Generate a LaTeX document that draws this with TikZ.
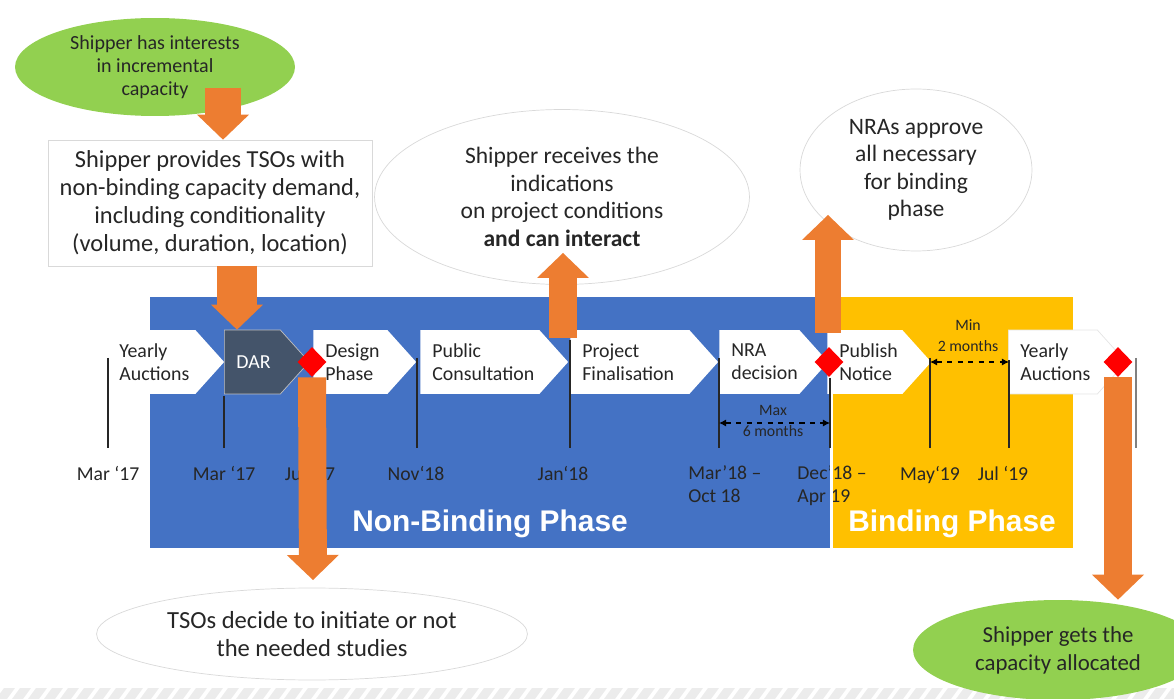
\documentclass[tikz,border=0pt]{standalone}
\usepackage{fontspec}
\setmainfont{Carlito}
\newfontfamily\phasefont{Liberation Sans}
\usetikzlibrary{arrows.meta, positioning, shapes.geometric, shapes.symbols, calc}
\definecolor{nbBlue}  {RGB}{68,114,196}
\definecolor{bYellow} {RGB}{255,192,0}
\definecolor{arOrange}{RGB}{237,125,49}
\definecolor{shGreen} {RGB}{146,208,80}
\definecolor{darSlate}{RGB}{68,84,106}
\definecolor{msRed}   {RGB}{255,0,0}
\definecolor{elGray}  {RGB}{217,217,217}
\definecolor{txDark}  {RGB}{38,38,38}

\begin{document}
\begin{tikzpicture}[x=0.02cm, y=-0.02cm, every node/.style={text=txDark},
    STAGE/.style={shape=signal, signal to=east, signal pointer angle=96, fill=white, minimum height=1.28cm, inner xsep=0.24cm, inner ysep=0pt, anchor=west, align=left, font=\fontsize{11.3}{13.2}\selectfont},
    MS/.style={diamond, fill=msRed, minimum width=0.58cm, minimum height=0.6cm, inner sep=0pt},
    TICK/.style={line width=0.7pt, black!85},
    DATE/.style={font=\fontsize{11.2}{13}\selectfont, inner sep=0pt},
    NOTE/.style={ellipse, draw=elGray, fill=white, align=center, inner sep=0pt, font=\fontsize{13.4}{15.6}\selectfont},
    GREEN/.style={ellipse, fill=shGreen, align=center, inner sep=0pt},
    BIG/.style={draw=arOrange, line width=0.56cm, -{Triangle[length=0.5cm, width=1.04cm, line width=0pt, fill=arOrange]}},
    SPAN/.style={dashed, line width=0.6pt, {Latex[length=4pt,width=4pt]}-{Latex[length=4pt,width=4pt]}},
    PHASE/.style={text=white, font=\phasefont\bfseries\fontsize{17}{20}\selectfont}]
    \useasboundingbox (0,0) rectangle (1174,699);

    % footer band
    \foreach \x in {-20,-4,...,1180}
        \fill[gray!15] (\x,699) -- ++(11,0) -- ++(8,-11) -- ++(-11,0) -- cycle;

    % phases
    \fill[nbBlue] (150,297) rectangle (830,548);
    \fill[bYellow] (833,297) rectangle (1073,548);
    \node[PHASE] (nbLbl) at (490,524) {Non-Binding Phase};
    \node[PHASE] (bLbl) at (952,524) {Binding Phase};

    % dates
    \foreach \x/\d [count=\i] in {108/{Mar ‘17}, 224/{Mar ‘17}, 310/{Jul ‘17}, 416/{Nov‘18}, 563/{Jan‘18}, 930/{May‘19}, 1003/{Jul ‘19}}
        \node[DATE, anchor=base] (date\i) at (\x,480) {\d};
    \node[DATE, anchor=north west, align=left] (dateNra) at (688,465) {Mar’18 –\\Oct 18};
    \node[DATE, anchor=north west, align=left] (datePub) at (797,465) {Dec’18 –\\Apr 19};
    \fill[white] (830,297) rectangle (833,548);

    % stages
    \node[STAGE, text width=1.28cm] (yearA) at (107,362) {Yearly\\Auctions};
    \node[STAGE, text width=0.64cm, fill=darSlate, draw=gray!50, text=white, align=right] (dar) at (224,362) {DAR};
    \node[STAGE, text width=1.0cm] (design) at (313,362) {Design\\Phase};
    \node[STAGE, text width=1.9cm] (pubCons) at (420,362) {Public\\Consultation};
    \node[STAGE, text width=1.9cm] (projFin) at (570,362) {Project\\Finalisation};
    \node[STAGE, text width=1.12cm] (nraDec) at (719,362) {NRA\\decision};
    \node[STAGE, text width=1.02cm] (pubNot) at (827,362) {Publish\\Notice};
    \node[STAGE, text width=1.3cm, draw=gray!20] (yearB) at (1008,362) {Yearly\\Auctions};

    % ticks
    \foreach \x/\y in {108/358, 224/396, 417/358, 570/340, 719/358, 830/378, 930/358, 1009/360}
        \draw[TICK] (\x,\y) -- (\x,448);
    \draw[TICK, gray] (1136,358) -- (1136,448);

    % spans
    \coordinate (maxL) at (719,423); \coordinate (maxR) at (830,423);
    \draw[SPAN] (maxL) -- (maxR);
    \node[font=\fontsize{9}{12}\selectfont, align=center, inner sep=0pt] (maxLbl) at (773,421) {Max\\6 months};
    \coordinate (minL) at (930,362); \coordinate (minR) at (1009,362);
    \draw[SPAN] (minL) -- (minR);
    \node[font=\fontsize{9}{12}\selectfont, align=center, inner sep=0pt] (minLbl) at (968,336) {Min\\2 months};

    % callouts
    \node[GREEN, minimum width=5.6cm, minimum height=1.96cm, font=\fontsize{11.4}{13.2}\selectfont] (shipInt) at (155,67) {Shipper has interests\\in incremental\\capacity};
    \node[draw=gray!30, fill=white, minimum width=6.48cm, minimum height=2.52cm, align=center, font=\fontsize{13.9}{15.9}\selectfont] (demand) at (210,203) {Shipper provides TSOs with\\non-binding capacity demand,\\including conditionality\\(volume, duration, location)};
    \node[NOTE, minimum width=7.5cm, minimum height=3.5cm] (shipRec) at (562,197) {Shipper receives the\\indications\\on project conditions\\\textbf{and can interact}};
    \node[NOTE, minimum width=4.64cm, minimum height=3.24cm] (nraApp) at (916,170) {NRAs approve\\all necessary\\for binding\\phase};
    \node[NOTE, minimum width=8.62cm, minimum height=1.84cm, font=\fontsize{14}{16}\selectfont] (tsoDec) at (312,634) {TSOs decide to initiate or not\\the needed studies};
    \node[GREEN, minimum width=5.8cm, minimum height=2cm, font=\fontsize{13}{16}\selectfont] (shipGets) at (1058,650) {Shipper gets the\\capacity allocated};

    % milestones
    \node[MS] (msA) at (312,362) {};
    \node[MS] (msB) at (829,362) {};
    \node[MS] (msC) at (1118,362) {};

    % block arrows
    \coordinate (a1) at (223,88);
    \draw[BIG, line width=0.72cm] (a1) -- (a1 |- demand.north);
    \coordinate (a2) at (237,266);
    \draw[BIG, line width=0.8cm] (a2) -- (a2 |- dar.north);
    \coordinate (a3) at (563,338); \coordinate (a3e) at (563,253);
    \draw[BIG] (a3) -- (a3e);
    \coordinate (a4) at (828,333); \coordinate (a4e) at (828,215);
    \draw[BIG, line width=0.52cm] (a4) -- (a4e);
    \coordinate (a5e) at (313,580);
    \draw[BIG] (msA.south) -- (a5e);
    \draw[BIG] (msC.south) -- (msC |- shipGets.north);
\end{tikzpicture}
\end{document}
